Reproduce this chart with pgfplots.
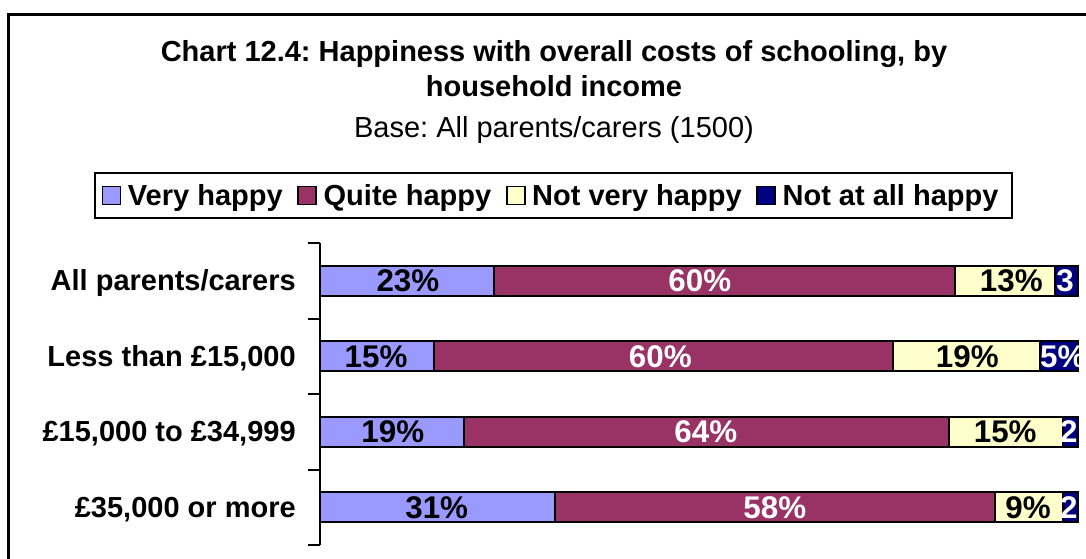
\documentclass[border=0pt]{standalone}
\usepackage{fontspec}
\setmainfont{Liberation Sans}
\usepackage{pgfplots}
\pgfplotsset{compat=1.18}
\usepackage{pgfplotstable}
\definecolor{vh}{HTML}{9999FF}
\definecolor{qh}{HTML}{993366}
\definecolor{nvh}{HTML}{FFFFCC}
\definecolor{nah}{HTML}{000080}
\frenchspacing
\newcommand\tfont{\fontsize{21.75}{26}\selectfont\bfseries}
\newcommand\sfont{\fontsize{21.75}{26}\selectfont}
\newcommand\lfont{\fontsize{23.5}{26}\selectfont\bfseries}

\pgfplotstableread{
row vh qh nvh nah
0 23 60.8 13.2 3.0
1 15 60.6 19.4 5.0
2 19 64 15 2
3 31 58 9 2
}\shares

\pgfplotstableread{
row xv lv xq lq xn ln xa la
0 11.6 23\% 50.1 60\% 91.2 13\% 98.3 3
1 7.4 15\% 44.9 60\% 85.4 19\% 98.0 5\%
2 9.6 19\% 50.9 64\% 90.4 15\% 98.8 2
3 15.4 31\% 60.0 58\% 93.4 9\% 98.8 2
}\labs

\pgfplotsset{
  mylegend/.style={legend image code/.code={\draw[##1, draw=black, line width=1.2pt] (0pt,-6.75pt) rectangle (13.5pt,6.75pt);}},
  common/.style={at={(240pt,-408.75pt)}, anchor=south west, scale only axis,
    width=568.5pt, height=226.5pt, xmin=0, xmax=100, ymin=-0.5, ymax=3.5, y dir=reverse}
}

\begin{document}
\begin{tikzpicture}
\useasboundingbox (0,0) rectangle (814.5pt,-418.5pt);
\clip (0,0) rectangle (814.5pt,-418.5pt);
\begin{scope}[x=0.75pt,y=-0.75pt]
  \draw[line width=2.25pt] (8,14) rectangle (1300,800);
  \node[anchor=base, font=\tfont, inner sep=0pt] at (554,61) {Chart 12.4: Happiness with overall costs of schooling, by};
  \node[anchor=base, font=\tfont, inner sep=0pt] at (554,96) {household income};
  \node[anchor=base, font=\sfont, inner sep=0pt] at (554,137) {Base: All parents/carers (1500)};
\end{scope}

\begin{axis}[common,
  xbar stacked, bar width=22.5pt,
  axis x line=none, axis y line*=left,
  y axis line style={line width=1.5pt, black},
  ytick={0,1,2,3},
  yticklabels={{All parents/carers},{Less than £15,000},{£15,000 to £34,999},{£35,000 or more}},
  yticklabel style={font=\tfont, inner sep=0pt, xshift=-18pt, yshift=-1.5pt},
  major tick length=0pt,
  minor ytick={-0.5,0.5,1.5,2.5,3.5},
  minor tick length=9pt, tick align=outside,
  minor tick style={line width=1.5pt, black},
  clip=false,
  legend columns=4,
  legend style={at={(0.308,1.157)}, anchor=center, draw=black, line width=1.5pt,
    font=\tfont, inner xsep=5pt, inner ysep=4pt,
    /tikz/every even column/.append style={column sep=6pt},
    nodes={inner xsep=5pt, inner ysep=4pt}},
]
\addplot[fill=vh, draw=black, line width=1.5pt, mylegend] table[x=vh, y=row] {\shares};
\addlegendentry{Very happy}
\addplot[fill=qh, draw=black, line width=1.5pt, mylegend] table[x=qh, y=row] {\shares};
\addlegendentry{Quite happy}
\addplot[fill=nvh, draw=black, line width=1.5pt, mylegend] table[x=nvh, y=row] {\shares};
\addlegendentry{Not very happy}
\addplot[fill=nah, draw=black, line width=1.5pt, mylegend] table[x=nah, y=row] {\shares};
\addlegendentry{Not at all happy}
\end{axis}

\begin{axis}[common, hide axis, clip=false,
  point meta=explicit symbolic,
  every node near coord/.append style={anchor=center, font=\lfont, inner sep=0pt}]
\addplot[only marks, mark=none, nodes near coords] table[x=xv, y=row, meta=lv] {\labs};
\addplot[only marks, mark=none, nodes near coords, every node near coord/.append style={text=white}] table[x=xq, y=row, meta=lq] {\labs};
\addplot[only marks, mark=none, nodes near coords] table[x=xn, y=row, meta=ln] {\labs};
\addplot[only marks, mark=none, nodes near coords, every node near coord/.append style={text=white}] table[x=xa, y=row, meta=la] {\labs};
\end{axis}
\end{tikzpicture}
\end{document}
